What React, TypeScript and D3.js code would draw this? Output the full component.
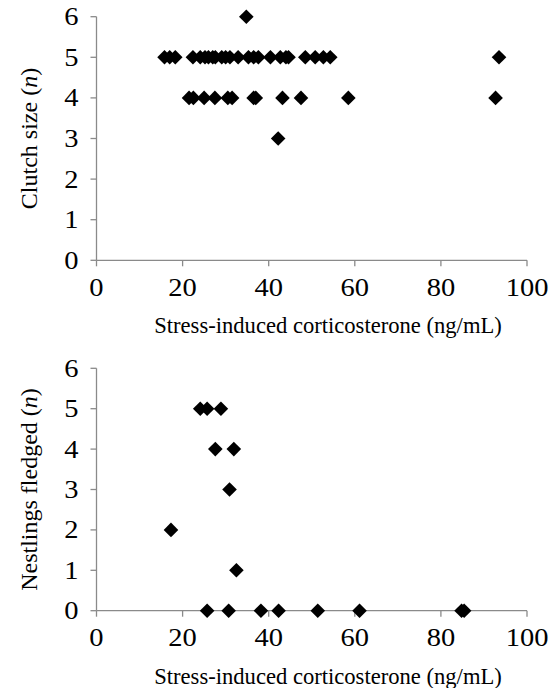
import React from "react";
import * as d3 from "d3";

// ---- Data ----
const X_TICKS = [0, 20, 40, 60, 80, 100];
const Y_TICKS = [0, 1, 2, 3, 4, 5, 6];

// Top panel: stress-induced corticosterone vs clutch size
const clutchCort = [
  15.8, 17, 18.3, 22.4, 24.1, 25.2, 26, 27, 27.6, 29.1, 30, 31, 32.9, 35.3, 36.5, 37.6, 40.4, 42.7, 44, 44.6,
  48.5, 50.8, 52.7, 54.3, 93.5,
  21.5, 22.5, 25, 27.5, 30.5, 31.5, 36.5, 37, 43.2, 47.5, 58.5, 92.7,
  34.8,
  42.2,
];
const clutchSize = [
  5, 5, 5, 5, 5, 5, 5, 5, 5, 5, 5, 5, 5, 5, 5, 5, 5, 5, 5, 5,
  5, 5, 5, 5, 5,
  4, 4, 4, 4, 4, 4, 4, 4, 4, 4, 4, 4,
  6,
  3,
];

// Bottom panel: stress-induced corticosterone vs nestlings fledged
const fledgedCort = [24.1, 25.7, 28.9, 27.6, 31.9, 30.9, 17.3, 32.5, 25.7, 30.7, 38.2, 42.3, 51.4, 61.1, 84.8, 85.4];
const fledgedN = [5, 5, 5, 4, 4, 3, 2, 1, 0, 0, 0, 0, 0, 0, 0, 0];

const X_TITLE = "Stress-induced corticosterone (ng/mL)";

const AXIS_COLOR = "#8a8a8a";
const FONT = "'Liberation Serif', 'Times New Roman', serif";
const TICK_FS = 25;
const TICK_SX = 1.14;
const XTITLE_FS = 22.6;
const YTITLE_FS = 24;

type PanelProps = {
  top: number;
  bottom: number;
  xs: number[];
  ys: number[];
  label: string;
};

function Panel({ top, bottom, xs, ys, label }: PanelProps) {
  const x = d3.scaleLinear().domain([0, 100]).range([96.5, 527]);
  const y = d3.scaleLinear().domain([0, 6]).range([bottom, top]);
  const r = 7.3;
  const diamond = (cx: number, cy: number) =>
    `M${cx},${cy - r}L${cx + r},${cy}L${cx},${cy + r}L${cx - r},${cy}Z`;
  const x0 = x(0);
  const y0 = y(0);
  const midY = (y(0) + y(6)) / 2;
  return (
    <g>
      {/* y axis */}
      <line x1={x0} x2={x0} y1={y(6)} y2={y0} stroke={AXIS_COLOR} strokeWidth={1.3} />
      {Y_TICKS.map((t) => (
        <g key={"y" + t}>
          <line x1={x0 - 6} x2={x0} y1={y(t)} y2={y(t)} stroke={AXIS_COLOR} strokeWidth={1.3} />
          <text
            transform={`translate(${x0 - 18},${y(t) + 8.5}) scale(${TICK_SX},1)`}
            textAnchor="end"
            fontSize={TICK_FS}
            fontFamily={FONT}
            fill="#000"
          >
            {t}
          </text>
        </g>
      ))}
      {/* x axis */}
      <line x1={x0} x2={x(100)} y1={y0} y2={y0} stroke={AXIS_COLOR} strokeWidth={1.3} />
      {X_TICKS.map((t) => (
        <g key={"x" + t}>
          <line x1={x(t)} x2={x(t)} y1={y0} y2={y0 + 6} stroke={AXIS_COLOR} strokeWidth={1.3} />
          <text
            transform={`translate(${x(t)},${y0 + 35.5}) scale(${TICK_SX},1)`}
            textAnchor="middle"
            fontSize={TICK_FS}
            fontFamily={FONT}
            fill="#000"
          >
            {t}
          </text>
        </g>
      ))}
      <text x={328} y={y0 + 73} textAnchor="middle" fontSize={XTITLE_FS} fontFamily={FONT} fill="#000">
        {X_TITLE}
      </text>
      <text
        transform={`translate(37,${midY}) rotate(-90)`}
        textAnchor="middle"
        fontSize={YTITLE_FS}
        fontFamily={FONT}
        fill="#000"
      >
        {label} (<tspan fontStyle="italic">n</tspan>)
      </text>
      {/* points */}
      {xs.map((v, i) => (
        <path key={"p" + i} d={diamond(x(v), y(ys[i]))} fill="#000" />
      ))}
    </g>
  );
}

export default function App() {
  return (
    <svg
      width={555}
      height={688}
      style={{ position: "absolute", left: 0, top: 0, background: "#fff" }}
    >
      <rect width={555} height={688} fill="#fff" />
      <Panel top={16.7} bottom={260.3} xs={clutchCort} ys={clutchSize} label="Clutch size" />
      <Panel top={368.3} bottom={610.7} xs={fledgedCort} ys={fledgedN} label="Nestlings fledged" />
    </svg>
  );
}
